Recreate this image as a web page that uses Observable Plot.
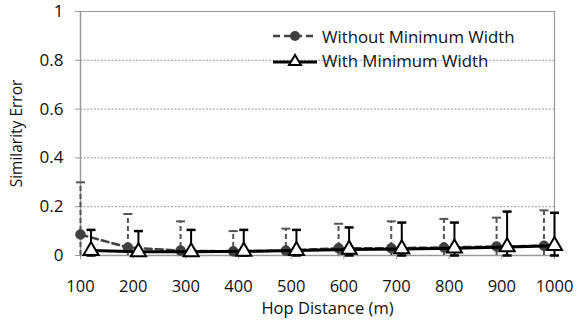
<!DOCTYPE html>
<html>
<head>
<meta charset="utf-8">
<script src="https://cdn.jsdelivr.net/npm/d3@7"></script>
<script src="https://cdn.jsdelivr.net/npm/@observablehq/plot@0.6"></script>
<style>
  html, body { margin: 0; padding: 0; background: #fff; }
  #wrap { position: relative; width: 576px; height: 322px; font-family: "Open Sans", sans-serif; }
  #legend { position: absolute; left: 272px; top: 24px; font-size: 16.8px; color: #111; }
  #legend .row { display: flex; align-items: center; height: 24px; }
  #legend svg { margin-right: 4px; }
</style>
</head>
<body>
<div id="wrap"></div>
<script>
// ---- data ----
const hopTicks = [100, 200, 300, 400, 500, 600, 700, 800, 900, 1000];
const seriesNames = ["Without Minimum Width", "With Minimum Width"];
// x positions (slightly offset around each hop distance, as plotted)
const xWithout = [100, 190, 290, 390, 490, 590, 690, 790, 890, 980];
const xWith    = [120, 210, 310, 410, 510, 610, 710, 810, 910, 1000];
// mean similarity error
const meanWithout = [0.086, 0.033, 0.020, 0.017, 0.020, 0.030, 0.030, 0.033, 0.037, 0.040];
const meanWith    = [0.020, 0.015, 0.015, 0.017, 0.020, 0.025, 0.027, 0.030, 0.035, 0.040];
// top of error bars
const upperWithout = [0.30, 0.17, 0.14, 0.10, 0.11, 0.13, 0.14, 0.15, 0.155, 0.185];
const upperWith    = [0.105, 0.10, 0.105, 0.105, 0.105, 0.115, 0.135, 0.135, 0.18, 0.175];
const yTicks = [0, 0.2, 0.4, 0.6, 0.8, 1];
const yTickLabels = ["0", "0.2", "0.4", "0.6", "0.8", "1"];
const xLabel = "Hop Distance (m)";
const yLabel = "Similarity Error";

// ---- build tables ----
function build(xs, means, uppers, name) {
  return xs.map((x, i) => ({
    x, y: means[i], hi: uppers[i],
    lo: Math.max(0, 2 * means[i] - uppers[i]),
    series: name
  }));
}
const dWithout = build(xWithout, meanWithout, upperWithout, seriesNames[0]);
const dWith = build(xWith, meanWith, upperWith, seriesNames[1]);

const capSymbol = {
  draw(context, size) {
    const w = 4.5;
    context.moveTo(-w, 0);
    context.lineTo(w, 0);
  }
};

const chart = Plot.plot({
  width: 576,
  height: 322,
  marginLeft: 80,
  marginRight: 22,
  marginTop: 11,
  marginBottom: 67,
  style: { fontFamily: "Open Sans, sans-serif", fontSize: "16px", color: "#111", background: "#fff" },
  x: { type: "linear", domain: [100, 1000] },
  y: { domain: [0, 1] },
  marks: [
    // gridlines
    Plot.ruleY(yTicks.filter(v => v > 0 && v < 1), { stroke: "#999", strokeWidth: 1, strokeDasharray: "2,1.5" }),
    // frame: top and right borders
    Plot.ruleY([1], { stroke: "#999", strokeWidth: 1.2 }),
    Plot.ruleX([1000], { stroke: "#999", strokeWidth: 1.2 }),
    // axes
    Plot.axisY({ ticks: yTicks, tickFormat: d => yTickLabels[yTicks.indexOf(d)], tickSize: 5, tickPadding: 12, stroke: "#999", label: null, fontSize: 17 }),
    Plot.axisX({ ticks: hopTicks, tickFormat: d => String(d), tickSize: 4, tickPadding: 21, stroke: "#999", label: null, fontSize: 16.5 }),
    Plot.ruleX([100], { stroke: "#999", strokeWidth: 1.5 }),
    Plot.ruleY([0], { stroke: "#999", strokeWidth: 1.5 }),
    // Without Minimum Width: error bars
    Plot.ruleX(dWithout, { x: "x", y1: "lo", y2: "hi", stroke: "#555", strokeWidth: 2, strokeDasharray: "5,3" }),
    Plot.dot(dWithout, { x: "x", y: "hi", symbol: capSymbol, stroke: "#555", strokeWidth: 2, r: 4 }),
    Plot.line(dWithout, { x: "x", y: "y", stroke: "#404040", strokeWidth: 2.5, strokeDasharray: "7,4" }),
    Plot.dot(dWithout, { x: "x", y: "y", r: 5, fill: "#404040", stroke: "#404040", strokeWidth: 0.5 }),
    // With Minimum Width
    Plot.ruleX(dWith, { x: "x", y1: "lo", y2: "hi", stroke: "#000", strokeWidth: 2 }),
    Plot.dot(dWith, { x: "x", y: "hi", symbol: capSymbol, stroke: "#000", strokeWidth: 2.5, r: 4 }),
    Plot.dot(dWith, { x: "x", y: "lo", symbol: capSymbol, stroke: "#000", strokeWidth: 2.5, r: 4 }),
    Plot.line(dWith, { x: "x", y: "y", stroke: "#000", strokeWidth: 3 }),
    Plot.dot(dWith, { x: "x", y: "y", symbol: "triangle", r: 5.6, fill: "#fff", stroke: "#000", strokeWidth: 2 }),
    // axis titles
    Plot.text([xLabel], { frameAnchor: "bottom", lineAnchor: "middle", textAnchor: "middle", dx: 10, dy: 53, fontSize: 16.5, fill: "#111" }),
    Plot.text([yLabel], { frameAnchor: "left", lineAnchor: "middle", textAnchor: "middle", dx: -63, rotate: -90, fontSize: 15.5, fill: "#111" })
  ]
});

const wrap = document.getElementById("wrap");
wrap.appendChild(chart);

// legend
const legend = document.createElement("div");
legend.id = "legend";
const symbols = [
  `<svg width="46" height="16"><line x1="1" y1="8" x2="45" y2="8" stroke="#404040" stroke-width="2.5" stroke-dasharray="7,4"/><circle cx="23" cy="8" r="5" fill="#404040"/></svg>`,
  `<svg width="46" height="16"><line x1="1" y1="10" x2="45" y2="10" stroke="#000" stroke-width="3"/><path d="M23,3 L29,13 L17,13 Z" fill="#fff" stroke="#000" stroke-width="2"/></svg>`
];
seriesNames.forEach((name, i) => {
  const row = document.createElement("div");
  row.className = "row";
  row.innerHTML = symbols[i] + `<span>${name}</span>`;
  legend.appendChild(row);
});
wrap.appendChild(legend);
</script>
</body>
</html>
